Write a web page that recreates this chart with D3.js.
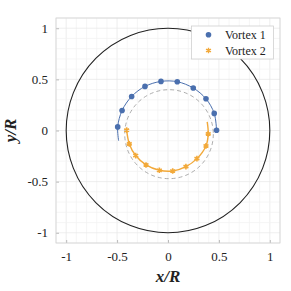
<!DOCTYPE html>
<html>
<head>
<meta charset="utf-8">
<script src="https://cdn.jsdelivr.net/npm/d3@7"></script>
<style>
  body { margin: 0; background: #fff; }
  svg text { font-family: "Liberation Serif", "DejaVu Serif", serif; }
</style>
</head>
<body>
<div id="app"></div>
<script>
const W = 291, H = 291,
      margin = { top: 18, right: 11, bottom: 48, left: 56 },
      width  = W - margin.left - margin.right,
      height = H - margin.top - margin.bottom;

// tick values
const ticks = [-1, -0.5, 0, 0.5, 1];
const tickLabels = ["-1", "-0.5", "0", "0.5", "1"];

// vortex 1 (blue) sampled markers, and the tail of its track
const v1x = [-0.494, -0.451, -0.357, -0.226, -0.069, 0.091, 0.248, 0.373, 0.454, 0.477];
const v1y = [0.035, 0.196, 0.333, 0.431, 0.480, 0.477, 0.415, 0.310, 0.167, 0.003];
const v1Tail = [-0.485, -0.10];

// vortex 2 (orange) sampled markers, and the head of its track
const v2x = [-0.406, -0.380, -0.317, -0.216, -0.085, 0.046, 0.176, 0.284, 0.373, 0.395];
const v2y = [0.003, -0.131, -0.245, -0.337, -0.389, -0.396, -0.353, -0.275, -0.151, -0.033];
const v2Head = [0.385, 0.085];

// reference circles
const wall = { cx: 0, cy: 0, r: 1 };
const guide = { cx: 0.01, cy: -0.036, r: 0.435 };

const blue = "#4a6fae", orange = "#f2a93a";

const x = d3.scaleLinear().domain([-1.1, 1.1]).range([0, width]);
const y = d3.scaleLinear().domain([-1.1, 1.1]).range([height, 0]);

const svg = d3.select("#app").append("svg")
  .attr("width", W).attr("height", H)
.append("g")
  .attr("transform", `translate(${margin.left},${margin.top})`);

/* grid */
const gridVals = d3.range(-11, 12).map(i => i / 10);
svg.append("g").selectAll("line.gx").data(gridVals).enter().append("line")
  .attr("x1", d => x(d)).attr("x2", d => x(d))
  .attr("y1", 0).attr("y2", height)
  .attr("stroke", d => Math.abs(d * 2 - Math.round(d * 2)) < 1e-6 ? "#e6e6e6" : "#f2f2f2")
  .attr("stroke-width", 0.7);
svg.append("g").selectAll("line.gy").data(gridVals).enter().append("line")
  .attr("y1", d => y(d)).attr("y2", d => y(d))
  .attr("x1", 0).attr("x2", width)
  .attr("stroke", d => Math.abs(d * 2 - Math.round(d * 2)) < 1e-6 ? "#e6e6e6" : "#f2f2f2")
  .attr("stroke-width", 0.7);

/* axes */
const xAxis = svg.append("g").attr("transform", `translate(0,${height})`)
  .call(d3.axisBottom(x).tickValues(ticks).tickFormat((d, i) => tickLabels[i]).tickSizeInner(-3).tickSizeOuter(0).tickPadding(9));
const yAxis = svg.append("g")
  .call(d3.axisLeft(y).tickValues(ticks).tickFormat((d, i) => tickLabels[i]).tickSizeInner(-3).tickSizeOuter(0).tickPadding(8));
[xAxis, yAxis].forEach(a => {
  a.select(".domain").remove();
  a.selectAll(".tick line").attr("stroke", "#bbb");
  a.selectAll(".tick text").attr("font-size", 13).attr("fill", "#222")
    .style("font-family", "'Liberation Serif', serif");
});
svg.append("rect").attr("width", width).attr("height", height)
  .attr("fill", "none").attr("stroke", "#d0d0d0").attr("stroke-width", 0.8);

/* circles */
svg.append("ellipse")
  .attr("cx", x(wall.cx)).attr("cy", y(wall.cy))
  .attr("rx", x(wall.r) - x(0)).attr("ry", y(0) - y(wall.r))
  .attr("fill", "none").attr("stroke", "#222").attr("stroke-width", 1.1);
svg.append("ellipse")
  .attr("cx", x(guide.cx)).attr("cy", y(guide.cy))
  .attr("rx", x(guide.r) - x(0)).attr("ry", y(0) - y(guide.r))
  .attr("fill", "none").attr("stroke", "#999").attr("stroke-width", 0.8)
  .attr("stroke-dasharray", "4,3");

/* tracks */
const line = d3.line().x(d => x(d[0])).y(d => y(d[1])).curve(d3.curveCatmullRom);
const v1 = v1x.map((d, i) => [d, v1y[i]]);
const v2 = v2x.map((d, i) => [d, v2y[i]]);

svg.append("path").datum([v1Tail].concat(v1))
  .attr("d", line).attr("fill", "none").attr("stroke", blue).attr("stroke-width", 1);
svg.append("path").datum(v2.concat([v2Head]))
  .attr("d", line).attr("fill", "none").attr("stroke", orange).attr("stroke-width", 1.4);

svg.selectAll(".dot1").data(v1).enter().append("circle")
  .attr("cx", d => x(d[0])).attr("cy", d => y(d[1])).attr("r", 2.8).attr("fill", blue);

const star = d3.symbol().type(d3.symbolAsterisk).size(22);
svg.selectAll(".dot2").data(v2).enter().append("path")
  .attr("transform", d => `translate(${x(d[0])},${y(d[1])})`)
  .attr("d", star).attr("stroke", orange).attr("stroke-width", 1.6).attr("fill", orange);

/* legend */
const lg = svg.append("g").attr("transform", `translate(${191.5 - margin.left},${26 - margin.top})`);
lg.append("rect").attr("width", 82).attr("height", 33)
  .attr("fill", "#fff").attr("stroke", "#d0d0d0").attr("stroke-width", 0.8);
lg.append("circle").attr("cx", 17).attr("cy", 8.7).attr("r", 2.8).attr("fill", blue);
lg.append("path").attr("transform", "translate(17,24.5)").attr("d", star)
  .attr("stroke", orange).attr("stroke-width", 1.4).attr("fill", orange);
lg.append("text").attr("x", 33.5).attr("y", 13).attr("font-size", 12).attr("fill", "#222").text("Vortex 1");
lg.append("text").attr("x", 33.5).attr("y", 29).attr("font-size", 12).attr("fill", "#222").text("Vortex 2");

/* axis titles */
svg.append("text")
  .attr("x", x(0)).attr("y", height + 39)
  .attr("text-anchor", "middle").attr("font-size", 17)
  .attr("font-weight", "bold").attr("font-style", "italic").attr("fill", "#222")
  .text("x/R");
svg.append("text")
  .attr("transform", `translate(${-40},${y(0)}) rotate(-90)`)
  .attr("text-anchor", "middle").attr("font-size", 17)
  .attr("font-weight", "bold").attr("font-style", "italic").attr("fill", "#222")
  .text("y/R");
</script>
</body>
</html>
